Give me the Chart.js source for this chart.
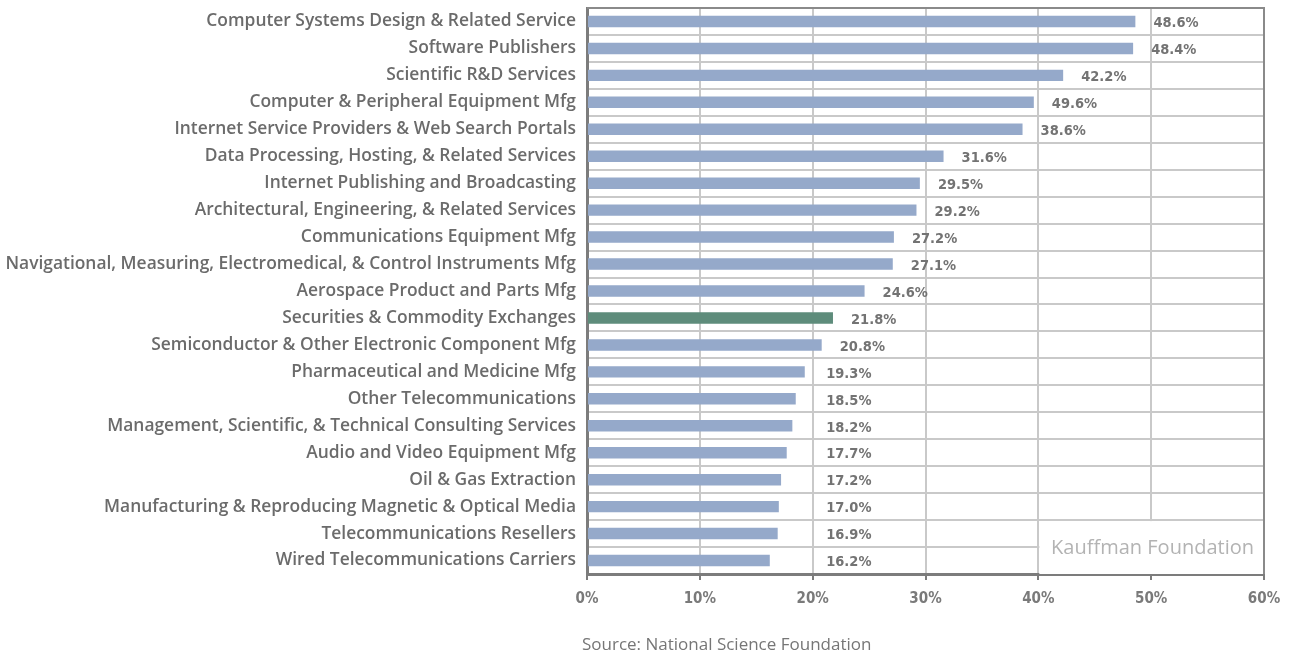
<!DOCTYPE html>
<html>
<head>
<meta charset="utf-8">
<script src="https://cdn.jsdelivr.net/npm/chart.js@4"></script>
<style>
  html, body { margin: 0; padding: 0; background: #fff; }
  #wrap { position: relative; width: 1293px; height: 655px; }
  #source {
    position: absolute; left: 582px; top: 632px;
    font: 17px 'Open Sans', sans-serif; color: #767676;
  }
</style>
</head>
<body>
<div id="wrap">
  <canvas id="chart" width="1293" height="655"></canvas>
  <div id="source">Source: National Science Foundation</div>
</div>
<script>
// Industries, top to bottom
const industries = [
    'Computer Systems Design & Related Service',
    'Software Publishers',
    'Scientific R&D Services',
    'Computer & Peripheral Equipment Mfg',
    'Internet Service Providers & Web Search Portals',
    'Data Processing, Hosting, & Related Services',
    'Internet Publishing and Broadcasting',
    'Architectural, Engineering, & Related Services',
    'Communications Equipment Mfg',
    'Navigational, Measuring, Electromedical, & Control Instruments Mfg',
    'Aerospace Product and Parts Mfg',
    'Securities & Commodity Exchanges',
    'Semiconductor & Other Electronic Component Mfg',
    'Pharmaceutical and Medicine Mfg',
    'Other Telecommunications',
    'Management, Scientific, & Technical Consulting Services',
    'Audio and Video Equipment Mfg',
    'Oil & Gas Extraction',
    'Manufacturing & Reproducing Magnetic & Optical Media',
    'Telecommunications Resellers',
    'Wired Telecommunications Carriers'
];

// Bar lengths (percent)
const shares = [48.6, 48.4, 42.2, 39.6, 38.6, 31.6, 29.5, 29.2, 27.2, 27.1, 24.6,
                21.8, 20.8, 19.3, 18.5, 18.2, 17.7, 17.2, 17.0, 16.9, 16.2];

// Label text as printed in the original (one differs from its bar)
const shareLabels = ['48.6%', '48.4%', '42.2%', '49.6%', '38.6%', '31.6%', '29.5%',
                     '29.2%', '27.2%', '27.1%', '24.6%', '21.8%', '20.8%', '19.3%',
                     '18.5%', '18.2%', '17.7%', '17.2%', '17.0%', '16.9%', '16.2%'];

const highlighted = 'Securities & Commodity Exchanges';
const xTicks = [0, 10, 20, 30, 40, 50, 60];

const barBlue = '#95a9ca';
const barGreen = '#5e8c7b';
const textGray = '#6b6b6b';
const gridGray = '#c9c9c9';
const axisGray = '#7c7c7c';
const condensed = "'DejaVu Sans Condensed', 'Liberation Sans Narrow', sans-serif";

// value labels to the right of bars
const valueLabels = {
    id: 'valueLabels',
    afterDatasetsDraw(chart) {
        const ctx = chart.ctx;
        const meta = chart.getDatasetMeta(0);
        const xs = chart.scales.x;
        ctx.save();
        ctx.font = 'bold 14.5px ' + condensed;
        ctx.fillStyle = '#737373';
        ctx.textAlign = 'left';
        ctx.textBaseline = 'middle';
        meta.data.forEach((bar, i) => {
            const pos = Math.max(shares[i] + 1.6, 21.2);
            ctx.fillText(shareLabels[i], xs.getPixelForValue(pos), bar.y + 2);
        });
        ctx.restore();
    }
};

// white box with the watermark + top/right frame
const frame = {
    id: 'frame',
    beforeDatasetsDraw(chart) {
        const ctx = chart.ctx;
        const a = chart.chartArea;
        const xs = chart.scales.x;
        const ys = chart.scales.y;
        const band = (ys.bottom - ys.top) / industries.length;
        const x0 = xs.getPixelForValue(40) + 1;
        const y0 = ys.bottom - 2 * band + 1;
        ctx.save();
        ctx.fillStyle = '#fff';
        ctx.fillRect(x0, y0, a.right - x0, a.bottom - y0);
        ctx.font = '500 20px "Open Sans", sans-serif';
        ctx.fillStyle = '#b3b3b3';
        ctx.textAlign = 'right';
        ctx.textBaseline = 'middle';
        ctx.fillText('Kauffman Foundation', a.right - 10, ys.bottom - band * 0.95);
        ctx.strokeStyle = '#8a8a8a';
        ctx.lineWidth = 2;
        ctx.beginPath();
        ctx.moveTo(a.left, a.top);
        ctx.lineTo(a.right, a.top);
        ctx.lineTo(a.right, a.bottom);
        ctx.stroke();
        ctx.restore();
    }
};

new Chart(document.getElementById('chart'), {
    type: 'bar',
    data: {
        labels: industries,
        datasets: [{
            data: shares,
            backgroundColor: industries.map(n => n === highlighted ? barGreen : barBlue),
            barPercentage: 0.85,
            categoryPercentage: 0.5
        }]
    },
    options: {
        indexAxis: 'y',
        responsive: false,
        animation: false,
        layout: { padding: { top: 8, right: 29, bottom: 0, left: 0 } },
        plugins: {
            legend: { display: false },
            tooltip: { enabled: false }
        },
        scales: {
            x: {
                min: 0,
                max: 60,
                afterBuildTicks: s => { s.ticks = xTicks.map(v => ({ value: v })); },
                afterFit: s => { s.height = 81; },
                grid: { color: gridGray, lineWidth: 2, tickColor: axisGray, tickLength: 6 },
                border: { color: axisGray, width: 3 },
                ticks: {
                    padding: 10,
                    color: '#7a7a7a',
                    font: { family: condensed, size: 15, weight: 'bold' },
                    callback: v => v + '%'
                }
            },
            y: {
                afterFit: s => { s.width = 587; s.paddingTop = 0; s.paddingBottom = 0; },
                grid: { color: gridGray, lineWidth: 2, drawTicks: false, offset: true },
                border: { color: axisGray, width: 3 },
                ticks: {
                    padding: 11,
                    autoSkip: false,
                    color: textGray,
                    font: { family: "'Open Sans', sans-serif", size: 17.4, weight: 600 }
                }
            }
        }
    },
    plugins: [frame, valueLabels]
});
</script>
</body>
</html>
